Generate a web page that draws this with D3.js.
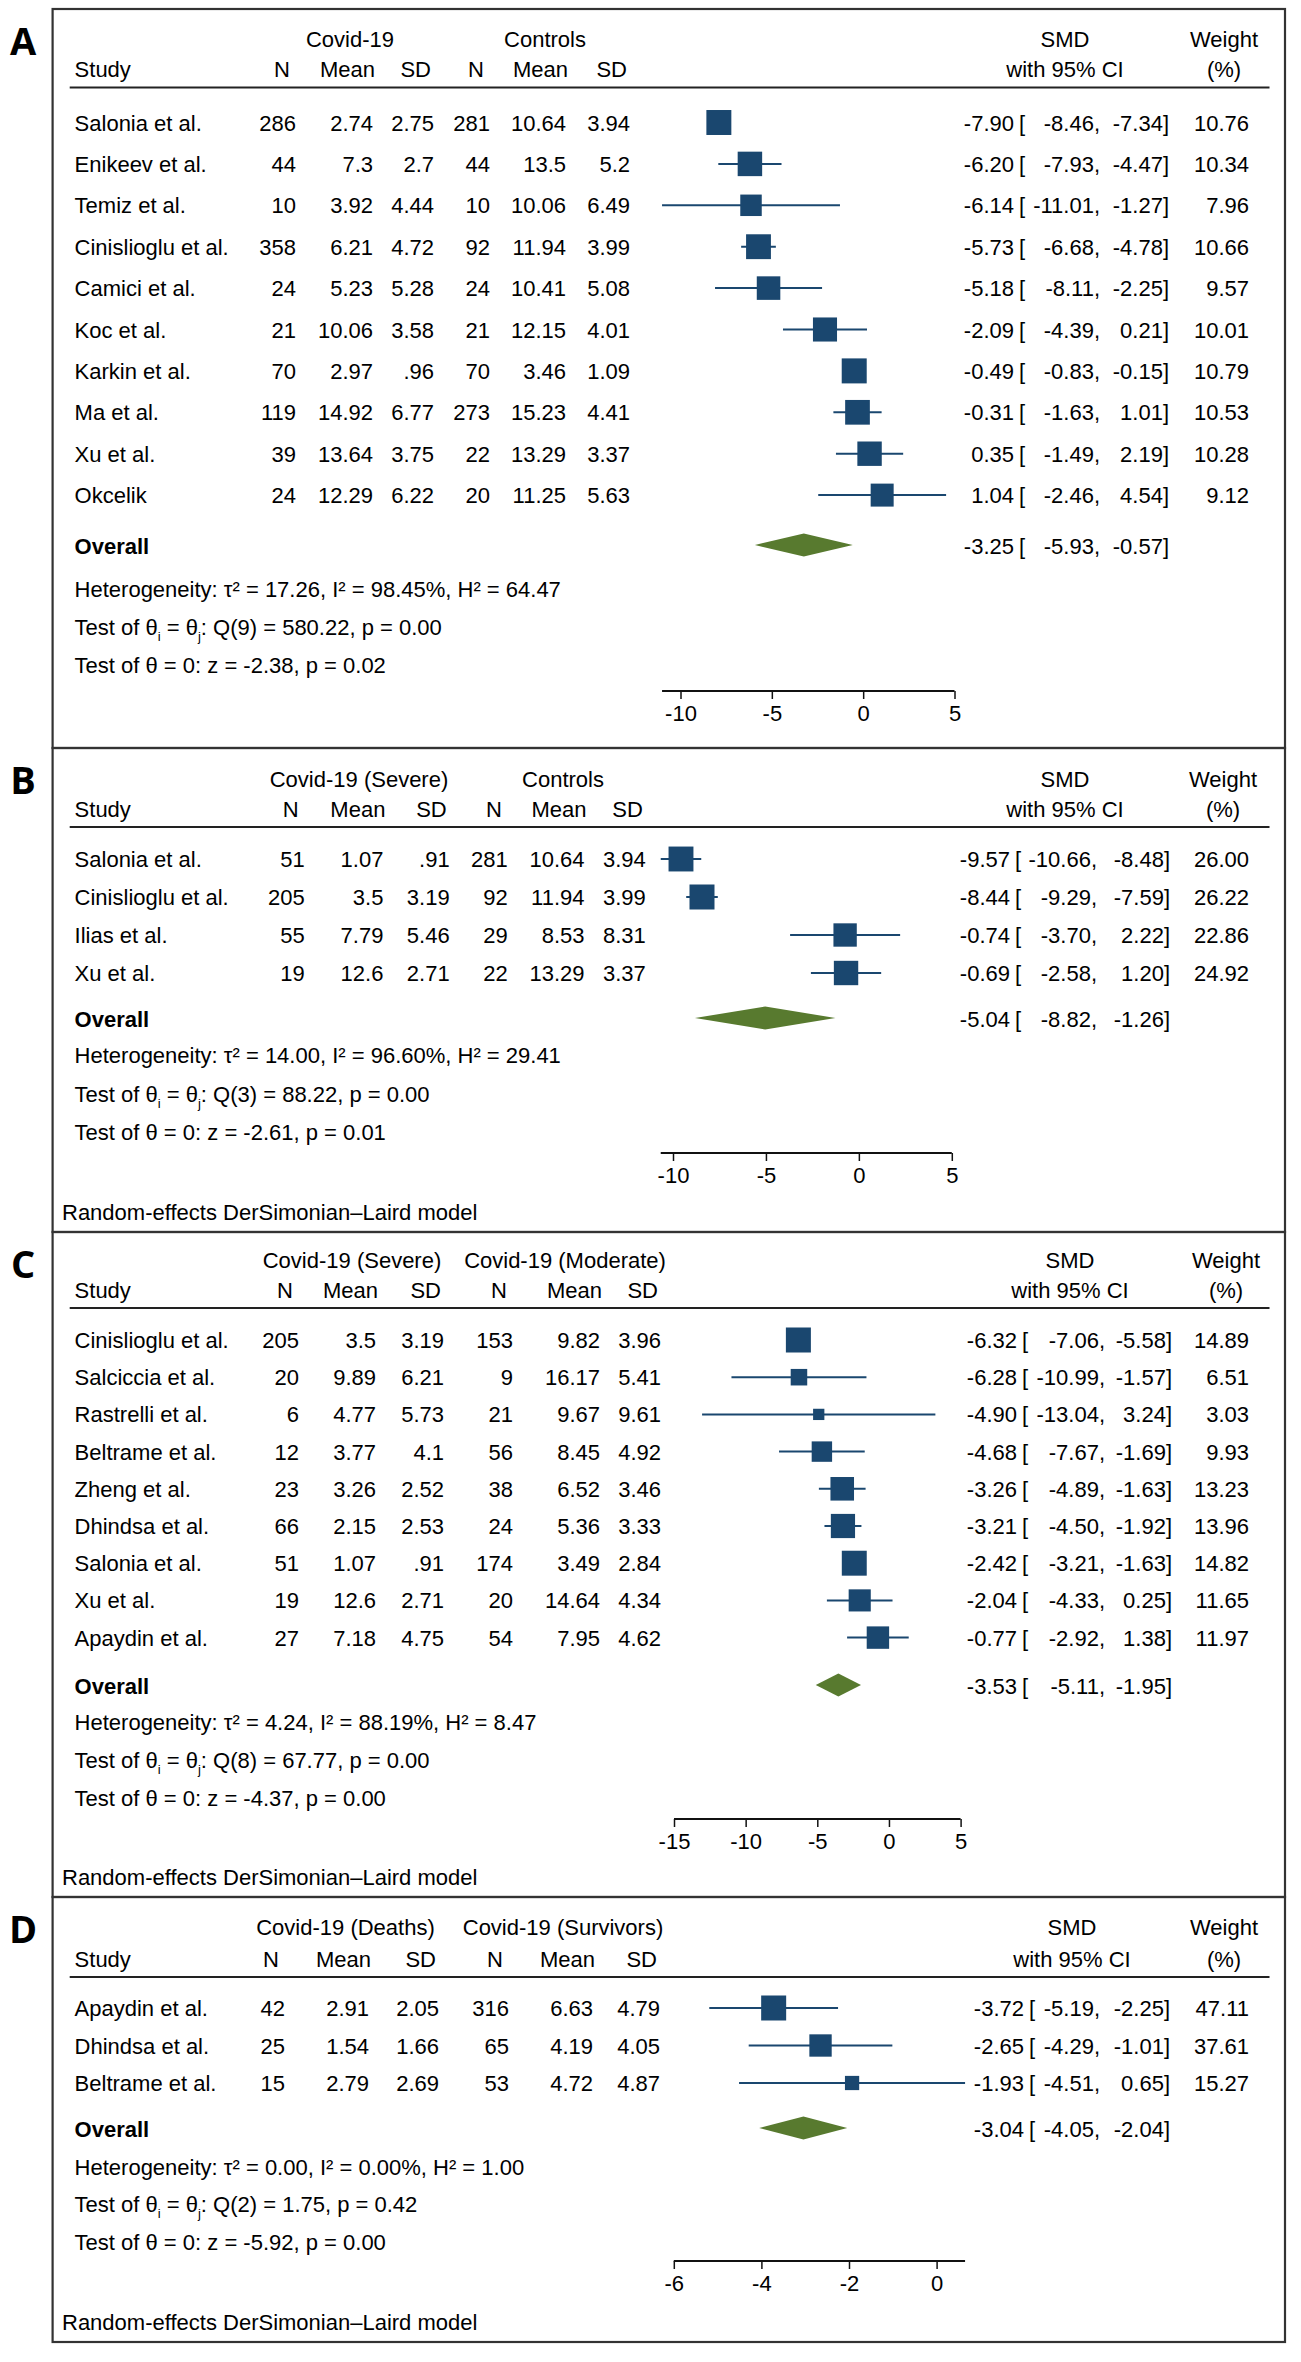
<!DOCTYPE html>
<html>
<head>
<meta charset="utf-8">
<script src="https://cdn.jsdelivr.net/npm/d3@7"></script>
<style>
  body { margin: 0; background: #fff; }
  text { font-family: "Liberation Sans", Arial, Helvetica, sans-serif; font-size: 22px; fill: #000; }
  .letter { font-family: "Open Sans", "Liberation Sans", sans-serif; font-size: 38px; font-weight: 700; }
</style>
</head>
<body>
<div id="forest"></div>
<script>
// ---- A: Covid-19 vs controls
var groupsA = ["Covid-19", "Controls"];
var studyA = ["Salonia et al.", "Enikeev et al.", "Temiz et al.", "Cinislioglu et al.", "Camici et al.",
              "Koc et al.", "Karkin et al.", "Ma et al.", "Xu et al.", "Okcelik"];
var tableA = [["286", "2.74", "2.75", "281", "10.64", "3.94"],
              ["44", "7.3", "2.7", "44", "13.5", "5.2"],
              ["10", "3.92", "4.44", "10", "10.06", "6.49"],
              ["358", "6.21", "4.72", "92", "11.94", "3.99"],
              ["24", "5.23", "5.28", "24", "10.41", "5.08"],
              ["21", "10.06", "3.58", "21", "12.15", "4.01"],
              ["70", "2.97", ".96", "70", "3.46", "1.09"],
              ["119", "14.92", "6.77", "273", "15.23", "4.41"],
              ["39", "13.64", "3.75", "22", "13.29", "3.37"],
              ["24", "12.29", "6.22", "20", "11.25", "5.63"]];
var smdA = [-7.90, -6.20, -6.14, -5.73, -5.18, -2.09, -0.49, -0.31, 0.35, 1.04];
var loA = [-8.46, -7.93, -11.01, -6.68, -8.11, -4.39, -0.83, -1.63, -1.49, -2.46];
var hiA = [-7.34, -4.47, -1.27, -4.78, -2.25, 0.21, -0.15, 1.01, 2.19, 4.54];
var weightA = [10.76, 10.34, 7.96, 10.66, 9.57, 10.01, 10.79, 10.53, 10.28, 9.12];
var overallA = [-3.25, -5.93, -0.57];
var statsA = ["17.26", "98.45%", "64.47", "9", "580.22", "0.00", "-2.38", "0.02"];
var ticksA = [-10, -5, 0, 5];

// ---- B: severe vs controls
var groupsB = ["Covid-19 (Severe)", "Controls"];
var studyB = ["Salonia et al.", "Cinislioglu et al.", "Ilias et al.", "Xu et al."];
var tableB = [["51", "1.07", ".91", "281", "10.64", "3.94"],
              ["205", "3.5", "3.19", "92", "11.94", "3.99"],
              ["55", "7.79", "5.46", "29", "8.53", "8.31"],
              ["19", "12.6", "2.71", "22", "13.29", "3.37"]];
var smdB = [-9.57, -8.44, -0.74, -0.69];
var loB = [-10.66, -9.29, -3.70, -2.58];
var hiB = [-8.48, -7.59, 2.22, 1.20];
var weightB = [26.00, 26.22, 22.86, 24.92];
var overallB = [-5.04, -8.82, -1.26];
var statsB = ["14.00", "96.60%", "29.41", "3", "88.22", "0.00", "-2.61", "0.01"];
var ticksB = [-10, -5, 0, 5];

// ---- C: severe vs moderate
var groupsC = ["Covid-19 (Severe)", "Covid-19 (Moderate)"];
var studyC = ["Cinislioglu et al.", "Salciccia et al.", "Rastrelli et al.", "Beltrame et al.", "Zheng et al.",
              "Dhindsa et al.", "Salonia et al.", "Xu et al.", "Apaydin et al."];
var tableC = [["205", "3.5", "3.19", "153", "9.82", "3.96"],
              ["20", "9.89", "6.21", "9", "16.17", "5.41"],
              ["6", "4.77", "5.73", "21", "9.67", "9.61"],
              ["12", "3.77", "4.1", "56", "8.45", "4.92"],
              ["23", "3.26", "2.52", "38", "6.52", "3.46"],
              ["66", "2.15", "2.53", "24", "5.36", "3.33"],
              ["51", "1.07", ".91", "174", "3.49", "2.84"],
              ["19", "12.6", "2.71", "20", "14.64", "4.34"],
              ["27", "7.18", "4.75", "54", "7.95", "4.62"]];
var smdC = [-6.32, -6.28, -4.90, -4.68, -3.26, -3.21, -2.42, -2.04, -0.77];
var loC = [-7.06, -10.99, -13.04, -7.67, -4.89, -4.50, -3.21, -4.33, -2.92];
var hiC = [-5.58, -1.57, 3.24, -1.69, -1.63, -1.92, -1.63, 0.25, 1.38];
var weightC = [14.89, 6.51, 3.03, 9.93, 13.23, 13.96, 14.82, 11.65, 11.97];
var overallC = [-3.53, -5.11, -1.95];
var statsC = ["4.24", "88.19%", "8.47", "8", "67.77", "0.00", "-4.37", "0.00"];
var ticksC = [-15, -10, -5, 0, 5];

// ---- D: deaths vs survivors
var groupsD = ["Covid-19 (Deaths)", "Covid-19 (Survivors)"];
var studyD = ["Apaydin et al.", "Dhindsa et al.", "Beltrame et al."];
var tableD = [["42", "2.91", "2.05", "316", "6.63", "4.79"],
              ["25", "1.54", "1.66", "65", "4.19", "4.05"],
              ["15", "2.79", "2.69", "53", "4.72", "4.87"]];
var smdD = [-3.72, -2.65, -1.93];
var loD = [-5.19, -4.29, -4.51];
var hiD = [-2.25, -1.01, 0.65];
var weightD = [47.11, 37.61, 15.27];
var overallD = [-3.04, -4.05, -2.04];
var statsD = ["0.00", "0.00%", "1.00", "2", "1.75", "0.42", "-5.92", "0.00"];
var ticksD = [-6, -4, -2, 0];

var colHeads = ["N", "Mean", "SD", "N", "Mean", "SD"];
var modelNote = "Random-effects DerSimonian\u2013Laird model";

var NAVY = "#1a476f", GREEN = "#587a2f", FRAME = "#333";
var boxL = 52.6, boxR = 1285, textX = 74.6;

// layout of each panel (pixel positions measured on the figure)
var panels = [
  { key: "A", groups: groupsA, study: studyA, table: tableA, smd: smdA, lo: loA, hi: hiA, w: weightA,
    overall: overallA, stats: statsA, ticks: ticksA, domain: [-10, 5], range: [680.5, 954.5],
    top: 9, bottom: 748, head1: 47, head2: 77, rule: 87.5, row0: 122.5, step: 41.4, diamond: 545,
    het: 597, test1: 635, test2: 673, axisY: 691, note: null,
    cols: [296, 373, 434, 490, 566, 630], g: [350, 545], esR: 1014, loR: 1100, hiR: 1169, smdC: 1065, wC: 1224 },
  { key: "B", groups: groupsB, study: studyB, table: tableB, smd: smdB, lo: loB, hi: hiB, w: weightB,
    overall: overallB, stats: statsB, ticks: ticksB, domain: [-10, 5], range: [673, 951.8],
    top: 748, bottom: 1232, head1: 787, head2: 817, rule: 827, row0: 859, step: 38, diamond: 1018,
    het: 1063, test1: 1102, test2: 1140, axisY: 1153, note: 1220,
    cols: [304.7, 383.4, 449.7, 507.8, 584.5, 645.8], g: [359, 563], esR: 1010, loR: 1097, hiR: 1170, smdC: 1065, wC: 1223 },
  { key: "C", groups: groupsC, study: studyC, table: tableC, smd: smdC, lo: loC, hi: hiC, w: weightC,
    overall: overallC, stats: statsC, ticks: ticksC, domain: [-15, 5], range: [674, 960.6],
    top: 1232, bottom: 1897, head1: 1268, head2: 1298, rule: 1308, row0: 1340, step: 37.2, diamond: 1685,
    het: 1730, test1: 1768, test2: 1806, axisY: 1819, note: 1885,
    cols: [299, 376, 444, 513, 600, 661], g: [352, 565], esR: 1017, loR: 1105, hiR: 1172, smdC: 1070, wC: 1226 },
  { key: "D", groups: groupsD, study: studyD, table: tableD, smd: smdD, lo: loD, hi: hiD, w: weightD,
    overall: overallD, stats: statsD, ticks: ticksD, domain: [-6, 0], range: [673.8, 936.6],
    top: 1897, bottom: 2342, head1: 1935, head2: 1967, rule: 1977, row0: 2008, step: 37.5, diamond: 2128,
    het: 2175, test1: 2212, test2: 2250, axisY: 2261, note: 2330,
    cols: [285, 369, 439, 509, 593, 660], g: [345.5, 563], esR: 1024, loR: 1100, hiR: 1170, smdC: 1072, wC: 1224 }
];

var svg = d3.select("#forest").append("svg")
    .attr("width", 1301)
    .attr("height", 2362);

function label(g, x, y, s, anchor) {
  return g.append("text")
      .attr("x", x)
      .attr("y", y)
      .attr("text-anchor", anchor || "start")
      .text(s);
}

function fmt(v) { return v.toFixed(2); }

panels.forEach(function (p) {
  var g = svg.append("g");

  // frame + panel letter
  g.append("rect")
      .attr("x", boxL).attr("y", p.top)
      .attr("width", boxR - boxL).attr("height", p.bottom - p.top)
      .attr("fill", "none").attr("stroke", FRAME).attr("stroke-width", 2.2);
  g.append("text").attr("class", "letter")
      .attr("x", 23).attr("y", p.top + 46).attr("text-anchor", "middle").text(p.key);

  // headers
  label(g, (p.g[0]), p.head1, p.groups[0], "middle");
  label(g, (p.g[1]), p.head1, p.groups[1], "middle");
  label(g, textX, p.head2, "Study");
  var shift = [-6, 2, -3, -6, 2, -3];
  colHeads.forEach(function (h, i) { label(g, p.cols[i] + shift[i], p.head2, h, "end"); });
  label(g, p.smdC, p.head1, "SMD", "middle");
  label(g, p.smdC, p.head2, "with 95% CI", "middle");
  label(g, p.wC, p.head1, "Weight", "middle");
  label(g, p.wC, p.head2, "(%)", "middle");
  g.append("line")
      .attr("x1", 69.7).attr("x2", 1269.5)
      .attr("y1", p.rule).attr("y2", p.rule)
      .attr("stroke", "#222").attr("stroke-width", 2);

  var x = d3.scaleLinear().domain(p.domain).range(p.range);
  var size = d3.scaleSqrt().domain([0, d3.max(p.w)]).range([0, 25]);
  var rowY = function (i) { return p.row0 + i * p.step; };

  // table rows
  p.study.forEach(function (s, i) {
    var y = rowY(i) + 8;
    label(g, textX, y, s);
    p.table[i].forEach(function (v, j) { label(g, p.cols[j], y, v, "end"); });
    label(g, p.esR, y, fmt(p.smd[i]), "end");
    label(g, p.esR + 5, y, "[");
    label(g, p.loR, y, fmt(p.lo[i]) + ",", "end");
    label(g, p.hiR, y, fmt(p.hi[i]) + "]", "end");
    label(g, 1249, y, fmt(p.w[i]), "end");
  });

  // confidence intervals and weighted squares
  var marks = g.append("g");
  marks.selectAll("line.ci")
    .data(p.smd)
    .enter()
    .append("line")
      .attr("class", "ci")
      .attr("x1", function (d, i) { return x(p.lo[i]); })
      .attr("x2", function (d, i) { return x(p.hi[i]); })
      .attr("y1", function (d, i) { return rowY(i); })
      .attr("y2", function (d, i) { return rowY(i); })
      .attr("stroke", NAVY)
      .attr("stroke-width", 2);
  marks.selectAll("rect.box")
    .data(p.smd)
    .enter()
    .append("rect")
      .attr("class", "box")
      .attr("x", function (d, i) { return x(d) - size(p.w[i]) / 2; })
      .attr("y", function (d, i) { return rowY(i) - size(p.w[i]) / 2; })
      .attr("width", function (d, i) { return size(p.w[i]); })
      .attr("height", function (d, i) { return size(p.w[i]); })
      .attr("fill", NAVY);

  // overall diamond
  var o = p.overall, cy = p.diamond;
  g.append("path")
      .attr("d", "M" + x(o[1]) + "," + cy + "L" + x(o[0]) + "," + (cy - 11.5) +
                 "L" + x(o[2]) + "," + cy + "L" + x(o[0]) + "," + (cy + 11.5) + "Z")
      .attr("fill", GREEN);
  label(g, textX, cy + 9, "Overall").style("font-weight", "bold");
  label(g, p.esR, cy + 9, fmt(o[0]), "end");
  label(g, p.esR + 5, cy + 9, "[");
  label(g, p.loR, cy + 9, fmt(o[1]) + ",", "end");
  label(g, p.hiR, cy + 9, fmt(o[2]) + "]", "end");

  // heterogeneity and tests
  var st = p.stats;
  label(g, textX, p.het, "Heterogeneity: \u03c4\u00b2 = " + st[0] + ", I\u00b2 = " + st[1] + ", H\u00b2 = " + st[2]);
  var t = g.append("text").attr("x", textX).attr("y", p.test1);
  t.append("tspan").text("Test of \u03b8");
  t.append("tspan").attr("dy", 6).style("font-size", "13px").text("i");
  t.append("tspan").attr("dy", -6).text(" = \u03b8");
  t.append("tspan").attr("dy", 6).style("font-size", "13px").text("j");
  t.append("tspan").attr("dy", -6).text(": Q(" + st[3] + ") = " + st[4] + ", p = " + st[5]);
  label(g, textX, p.test2, "Test of \u03b8 = 0: z = " + st[6] + ", p = " + st[7]);

  // x axis: line spans the ticks and the data range
  var lo = Math.min(p.ticks[0], d3.min(p.lo)), hi = Math.max(p.ticks[p.ticks.length - 1], d3.max(p.hi));
  var ax = g.append("g")
      .attr("transform", "translate(0," + p.axisY + ")")
      .call(d3.axisBottom(x).tickValues(p.ticks).tickSize(8).tickSizeOuter(0).tickPadding(6)
              .tickFormat(function (d) { return String(d); }));
  ax.select(".domain").remove();
  ax.selectAll("line").attr("stroke", "#111").attr("stroke-width", 1.5);
  ax.selectAll("text").attr("font-size", 22).attr("font-family", null).attr("fill", "#000");
  ax.attr("font-size", null).attr("font-family", null);
  ax.append("line")
      .attr("x1", x(lo)).attr("x2", x(hi))
      .attr("stroke", "#111").attr("stroke-width", 1.8);

  if (p.note) label(g, 62, p.note, modelNote);
});
</script>
</body>
</html>
